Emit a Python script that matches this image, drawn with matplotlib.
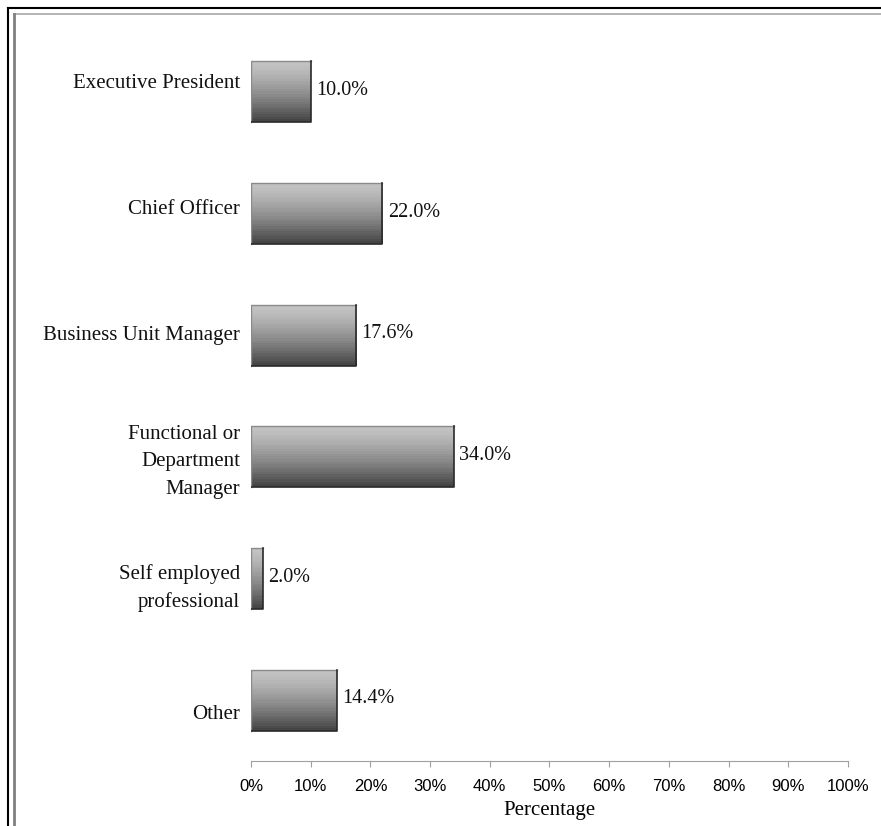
import numpy as np
import matplotlib.pyplot as plt
from matplotlib.lines import Line2D

# Respondent job levels and their share of the sample
roles = ["Executive President", "Chief Officer", "Business Unit Manager",
         "Functional or\nDepartment\nManager", "Self employed\nprofessional", "Other"]
shares = [10.0, 22.0, 17.6, 34.0, 2.0, 14.4]
xticks = [0, 10, 20, 30, 40, 50, 60, 70, 80, 90, 100]

fig = plt.figure(figsize=(8.81, 8.26), dpi=100)
ax = fig.add_axes([0.2849, 0.0787, 0.6776, 0.8838])

serif = ["Liberation Serif", "DejaVu Serif"]
sans = ["Liberation Sans", "DejaVu Sans"]

ypos = np.arange(len(roles))
bars = ax.barh(ypos, shares, height=0.5, facecolor="none",
               edgecolor="none", zorder=3)

# banded grey gradient, light on top and dark at the bottom
levels = 24
t = np.linspace(0, 1, levels)
grad = (0.76 - 0.49 * t ** 1.4).reshape(-1, 1)
for b in bars:
    x0, y0 = b.get_x(), b.get_y()
    w, h = b.get_width(), b.get_height()
    # y axis is inverted, so y0 is the top edge of the bar
    ax.imshow(grad, cmap="gray", vmin=0, vmax=1, aspect="auto",
              extent=[x0, x0 + w, y0 + h, y0], interpolation="nearest",
              origin="upper", zorder=2)
    ax.plot([x0, x0, x0 + w], [y0 + h, y0, y0], color="#8a8a8a", lw=1, zorder=3)
    ax.plot([x0, x0 + w, x0 + w], [y0 + h, y0 + h, y0], color="#2a2a2a", lw=1.2, zorder=3)

for y, v in zip(ypos, shares):
    ax.text(v + 0.9, y - 0.01, f"{v:.1f}%", va="center", ha="left",
            fontsize=14.5, family=serif, color="#111111")

# category labels are spread a little wider than the bar centres
for i, r in enumerate(roles):
    ax.text(-1.8, -0.072 + i * 1.0376, r, ha="right", va="center",
            multialignment="right", fontsize=15, family=serif,
            linespacing=1.6, color="#111111")

ax.set_xlim(0, 100)
ax.set_ylim(len(roles) - 0.5, -0.5)
ax.set_xticks(xticks)
ax.set_xticklabels([f"{t}%" for t in xticks], family=sans, fontsize=12)
ax.set_yticks([])
ax.tick_params(axis="x", length=4, color="#a0a0a0", pad=9)
for s in ["top", "right", "left"]:
    ax.spines[s].set_visible(False)
ax.spines["bottom"].set_color("#a0a0a0")
ax.set_xlabel("Percentage", family=serif, fontsize=15, labelpad=5)

# double frame round the chart area
W, H = 881, 826
def fx(px):
    return px / W
def fy(py):
    return 1 - py / H
fig.add_artist(Line2D([fx(8), 1], [fy(8), fy(8)], color="black", lw=1.5))
fig.add_artist(Line2D([fx(8), fx(8)], [fy(8), 0], color="black", lw=1.5))
fig.add_artist(Line2D([fx(14), 1], [fy(14), fy(14)], color="#a8a8a8", lw=1.2))
fig.add_artist(Line2D([fx(14), fx(14)], [fy(14), 0], color="#808080", lw=2))

fig.savefig("out.png", dpi=100)
